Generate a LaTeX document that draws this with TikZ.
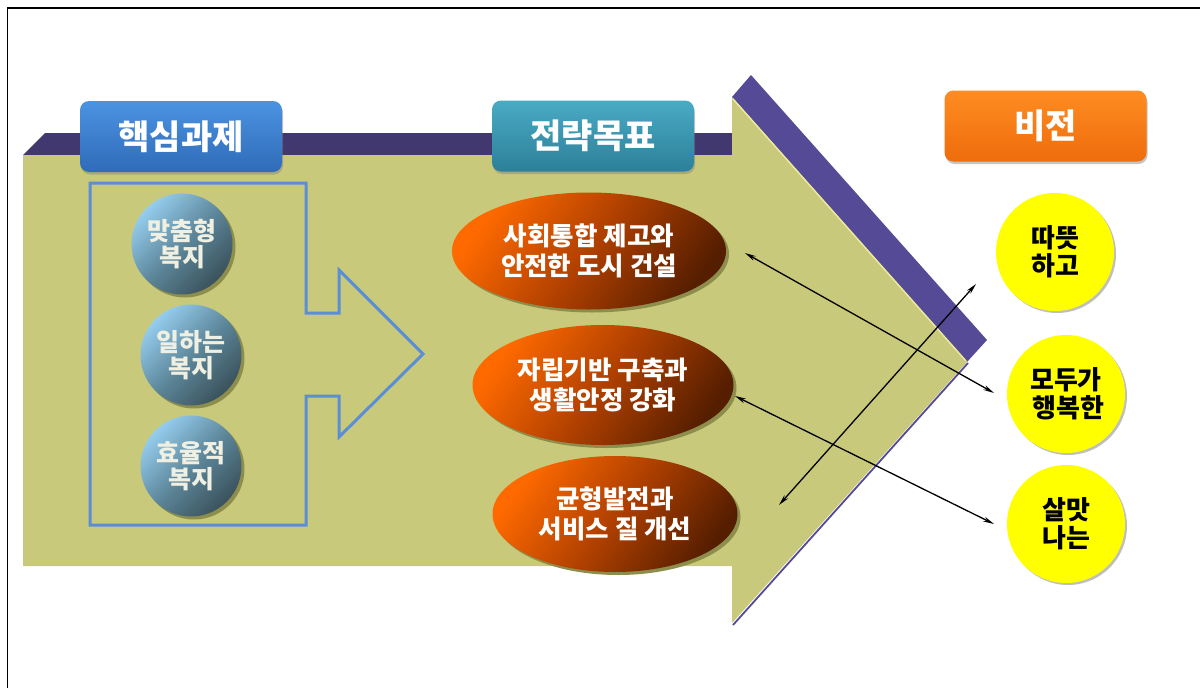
\documentclass[tikz,border=0pt]{standalone}
\usepackage{fontspec}
\newfontfamily\kr{Noto Sans CJK KR}
\usetikzlibrary{arrows.meta,shadows,shapes.geometric}
\definecolor{bodyyel}{HTML}{C9C97B}
\definecolor{hilite}{HTML}{EAEA9A}
\definecolor{purpD}{HTML}{40386F}
\definecolor{purpL}{HTML}{554A96}
\definecolor{bline}{HTML}{5A8ED6}
\definecolor{ballL}{HTML}{95CDEE}
\definecolor{ballM}{HTML}{5E889C}
\definecolor{ballD}{HTML}{3A525C}
\definecolor{ballS}{HTML}{8E8E4C}
\definecolor{ellL}{HTML}{FF6A00}
\definecolor{ellM}{HTML}{B04000}
\definecolor{ellD}{HTML}{561E00}
\definecolor{hbT}{HTML}{4B93E2}
\definecolor{hbB}{HTML}{2F6BB8}
\definecolor{htT}{HTML}{4AAAC4}
\definecolor{htB}{HTML}{2C8099}
\definecolor{hoT}{HTML}{FF8C22}
\definecolor{hoB}{HTML}{EE6C0C}
\definecolor{ballTxt}{HTML}{EFEFE2}
\definecolor{yel}{HTML}{FFFF00}
\tikzset{
  hdr/.style={rectangle, rounded corners=9pt, minimum width=202pt, minimum height=71pt,
    inner sep=0pt, text=white, font=\kr\bfseries\fontsize{34}{36}\selectfont,
    drop shadow={opacity=0.45, shadow xshift=1pt, shadow yshift=-2.5pt}},
  ball/.style={circle, minimum size=101pt, inner sep=0pt, align=center,
    text=ballTxt, font=\kr\bfseries\fontsize{25}{26}\selectfont,
    top color=ballL, bottom color=ballD, middle color=ballM, shading angle=45,
    drop shadow={fill=ballS, opacity=1, shadow xshift=3pt, shadow yshift=-3pt}},
  goal/.style={ellipse, inner sep=0pt, align=center, text=white,
    font=\kr\bfseries\fontsize{25.5}{30}\selectfont,
    top color=ellL, bottom color=ellD, middle color=ellM, shading angle=55,
    drop shadow={fill=ballS, opacity=1, shadow xshift=3pt, shadow yshift=-3pt}},
  vis/.style={circle, minimum size=118pt, inner sep=0pt, align=center, fill=yel,
    text=black, font=\kr\bfseries\fontsize{26}{28}\selectfont,
    drop shadow={fill=gray, opacity=0.5, shadow xshift=2pt, shadow yshift=-2pt}},
  dbl/.style={{Stealth[length=11pt,width=5pt]}-{Stealth[length=11pt,width=5pt]}, line width=1.3pt, black},
}
\begin{document}
\begin{tikzpicture}[x=1pt,y=-1pt]
\useasboundingbox (0,0) rectangle (1200,688);
\fill[white] (0,0) rectangle (1200,688);
% frame
\draw[black, line width=1.6pt] (7.5,688) -- (7.5,8) -- (1200,8);
% big arrow
\fill[purpD] (23,155) -- (45,133) -- (732,133) -- (732,155) -- cycle;
\fill[purpL] (732,97) -- (751,75) -- (987,340) -- (967,362) -- cycle;
\draw[purpL, line width=1.8pt] (968,363) -- (733,625);
\fill[bodyyel] (23,155) -- (732,155) -- (732,97) -- (967,362) -- (732,623) -- (732,566) -- (23,566) -- cycle;
\draw[hilite, line width=1.5pt] (733,99) -- (966,361);
% outline arrow
\draw[bline, line width=3pt, line join=miter] (90,183) -- (306,183) -- (306,313) -- (339,313) -- (339,270)
  -- (423,354) -- (339,437) -- (339,396) -- (306,396) -- (306,525) -- (90,525) -- cycle;
% headers
\node[hdr, top color=hbT, bottom color=hbB] (h1) at (181,136.5) {핵심과제};
\node[hdr, top color=htT, bottom color=htB] (h2) at (593,136) {전략목표};
\node[hdr, top color=hoT, bottom color=hoB] (h3) at (1045.5,126) {비전};
% balls
\node[ball] (s1) at (182,244) {맞춤형\\복지};
\node[ball] (s2) at (191,355) {일하는\\복지};
\node[ball] (s3) at (191,466) {효율적\\복지};
% goals
\node[goal, minimum width=274pt, minimum height=117pt] (e1) at (589,251) {사회통합 제고와\\안전한 도시 건설};
\node[goal, minimum width=261pt, minimum height=120pt] (e2) at (603,385) {자립기반 구축과\\생활안정 강화};
\node[goal, minimum width=245pt, minimum height=116pt] (e3) at (615,514) {균형발전과\\서비스 질 개선};
% vision
\node[vis] (y1) at (1055,252) {따뜻\\하고};
\node[vis] (y2) at (1066,394) {모두가\\\,행복한};
\node[vis] (y3) at (1066,524) {살맛\\나는};
% connector ends
\coordinate (a1s) at (745,253);
\coordinate (a1e) at (994,393);
\coordinate (a2s) at (779,505);
\coordinate (a2e) at (976,284);
\coordinate (a3s) at (735,396);
\coordinate (a3e) at (994,524);
\draw[dbl] (a1s) -- (a1e);
\draw[dbl] (a2s) -- (a2e);
\draw[dbl] (a3s) -- (a3e);
\end{tikzpicture}
\end{document}
